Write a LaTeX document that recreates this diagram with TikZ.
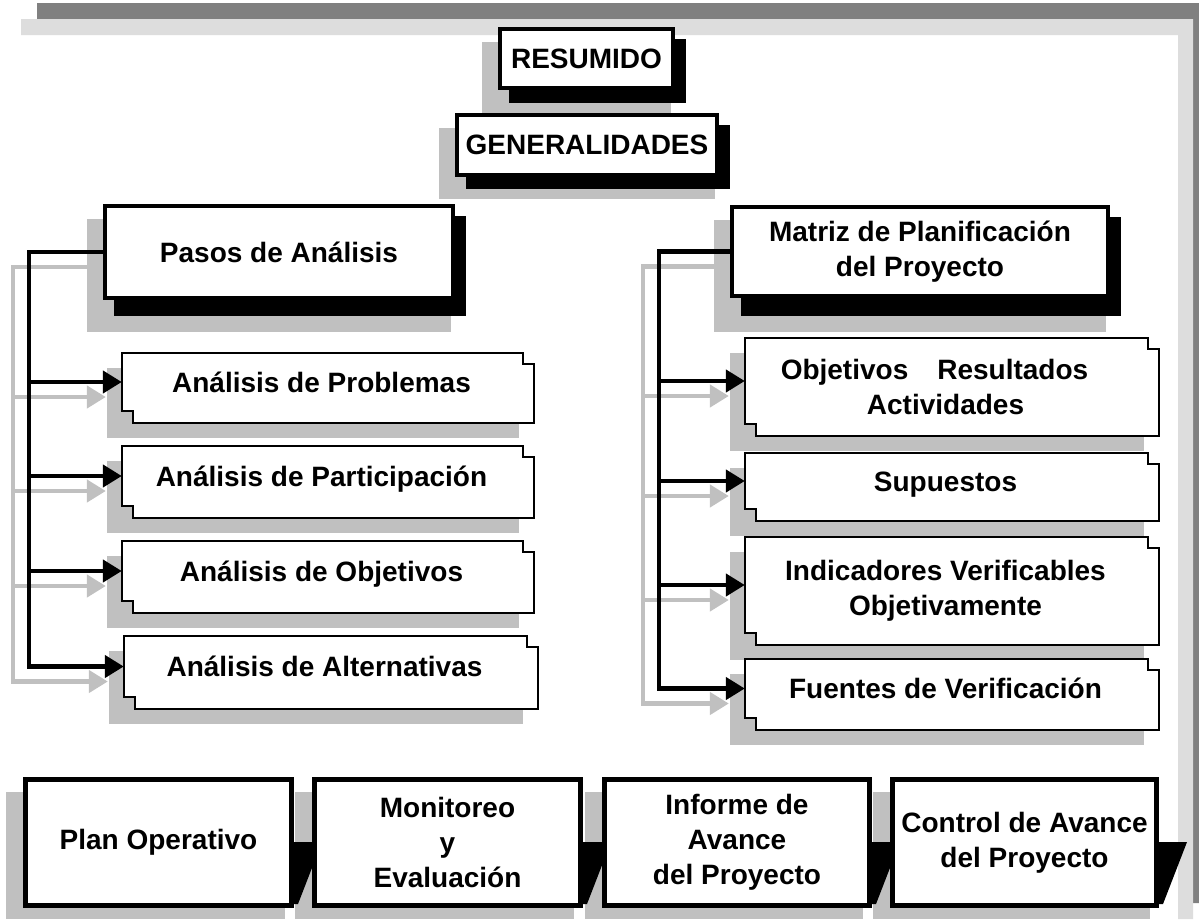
\documentclass[tikz,border=0pt]{standalone}
\usepackage{fontspec}
\setmainfont{Liberation Sans}
\usetikzlibrary{arrows.meta,backgrounds}
\definecolor{shadowgray}{RGB}{192,192,192}
\definecolor{framedark}{RGB}{128,128,128}
\definecolor{framelight}{RGB}{221,221,221}
\tikzset{mainbox/.style={draw, fill=white, line width=4pt, inner sep=0pt, align=center,
           font=\fontsize{28}{35}\selectfont\bfseries},
         basebox/.style={mainbox, line width=5pt, minimum height=126pt},
         subbox/.style={fill=white, inner sep=0pt, align=center,
           font=\fontsize{28}{35}\selectfont\bfseries, execute at end node={\hspace*{13pt}}},
         oneline/.style={subbox, text height=20pt, text depth=12pt},
         notch/.style={draw, line width=2pt, line join=miter},
         link/.style={line width=4.5pt, -{Triangle[length=19pt,width=22pt]}}}

\begin{document}
\begin{tikzpicture}[x=1pt,y=-1pt]
  \useasboundingbox (0,0) rectangle (1199,919);
  \node[mainbox, minimum width=173pt, minimum height=59pt] (resumido) at (586.5,58.5) {RESUMIDO};
  \node[mainbox, minimum width=260pt, minimum height=60pt] (generalidades) at (587,145) {GENERALIDADES};
  \node[mainbox, minimum width=348pt, minimum height=92pt] (pasos) at (279,252) {Pasos de Análisis};
  \node[mainbox, minimum width=376pt, minimum height=89pt] (matriz) at (920,251.5) {Matriz de Planificación\\del Proyecto};
  \node[oneline, minimum width=412pt, minimum height=70pt] (problemas) at (328,388) {Análisis de Problemas};
  \node[oneline, minimum width=412pt, minimum height=72pt] (participacion) at (328,482) {Análisis de Participación};
  \node[oneline, minimum width=412pt, minimum height=72pt] (objetivos) at (328,577) {Análisis de Objetivos};
  \node[oneline, minimum width=414pt, minimum height=73pt] (alternativas) at (331,672.5) {Análisis de Alternativas};
  \node[subbox, minimum width=414pt, minimum height=98pt] (resultados) at (952,387) {Objetivos\hspace{29pt}Resultados\hspace*{22pt}\\Actividades};
  \node[oneline, minimum width=414pt, minimum height=68pt] (supuestos) at (952,487) {Supuestos};
  \node[subbox, minimum width=414pt, minimum height=108pt] (indicadores) at (952,591) {Indicadores Verificables\\Objetivamente};
  \node[oneline, minimum width=414pt, minimum height=71pt] (fuentes) at (952,694.5) {Fuentes de Verificación};
  \node[basebox, minimum width=266pt] (plan) at (158.5,842.5) {Plan Operativo};
  \node[basebox, minimum width=266pt] (monitoreo) at (447.5,842.5) {Monitoreo\\y\\Evaluación};
  \node[basebox, minimum width=265pt] (informe) at (737,842.5) {Informe de\\Avance\\del Proyecto};
  \node[basebox, minimum width=264pt] (control) at (1024.5,842.5) {Control de Avance\\del Proyecto};
  \foreach \n in {problemas,participacion,objetivos,alternativas,resultados,supuestos,indicadores,fuentes}{
    \fill[shadowgray] (\n.south west) rectangle ++(11,-12);
    \draw[notch] (\n.north west) -- ([xshift=-11pt]\n.north east) |- ([yshift=-11pt]\n.north east)
      -- (\n.south east) -- ([xshift=11pt]\n.south west) |- ([yshift=12pt]\n.south west) -- cycle;}
  \begin{scope}[on background layer]
    \fill[white] (0,0) rectangle (1199,919);
    \fill[framedark] (37,3) rectangle (1199,19) (1193,19) rectangle (1199,903);
    \fill[framelight] (21,19) rectangle (1193,35) (1178,35) rectangle (1193,919);
    \foreach \n/\bs/\gs in {resumido/13/23,generalidades/12/22,pasos/16/32,matriz/18/34}{
      \fill[shadowgray] ([shift={(-16,15)}]\n.north west) rectangle ([shift={(-4,\gs)}]\n.south east);
      \fill ([shift={(11,12)}]\n.north west) rectangle ([shift={(11,\bs)}]\n.south east);}
    \foreach \n in {problemas,participacion,objetivos,alternativas,resultados,supuestos,indicadores,fuentes}
      \fill[shadowgray] ([shift={(-15,15)}]\n.north west) rectangle ([shift={(-15,15)}]\n.south east);
    \foreach \n in {plan,monitoreo,informe,control}
      \fill[shadowgray] ([shift={(-17,15)}]\n.north west) rectangle ([shift={(-9,11)}]\n.south east);
    \foreach \n in {plan,monitoreo,informe,control}
      \fill ([yshift=-65pt]\n.north east) -- ++(28,0) -- ([shift={(4,-4)}]\n.south east) -- ([shift={(0,-4)}]\n.south east) -- cycle;
  \end{scope}
  \coordinate (ltrunk) at (29,0);
  \coordinate (rtrunk) at (659,0);
  \foreach \c/\dx/\dy in {shadowgray/-16/15,black/0/0}{
    \draw[link,\c] ([shift={(\dx,\dy)}]pasos.west) -| ([shift={(\dx,\dy-6)}]alternativas.west -| ltrunk) -- ([shift={(\dx,\dy-6)}]alternativas.west);
    \foreach \n in {problemas,participacion,objetivos}
      \draw[link,\c] ([shift={(\dx,\dy-6)}]\n.west -| ltrunk) -- ([shift={(\dx,\dy-6)}]\n.west);
    \draw[link,\c] ([shift={(\dx,\dy)}]matriz.west) -| ([shift={(\dx,\dy-6)}]fuentes.west -| rtrunk) -- ([shift={(\dx,\dy-6)}]fuentes.west);
    \foreach \n in {resultados,supuestos,indicadores}
      \draw[link,\c] ([shift={(\dx,\dy-6)}]\n.west -| rtrunk) -- ([shift={(\dx,\dy-6)}]\n.west);}
\end{tikzpicture}
\end{document}
